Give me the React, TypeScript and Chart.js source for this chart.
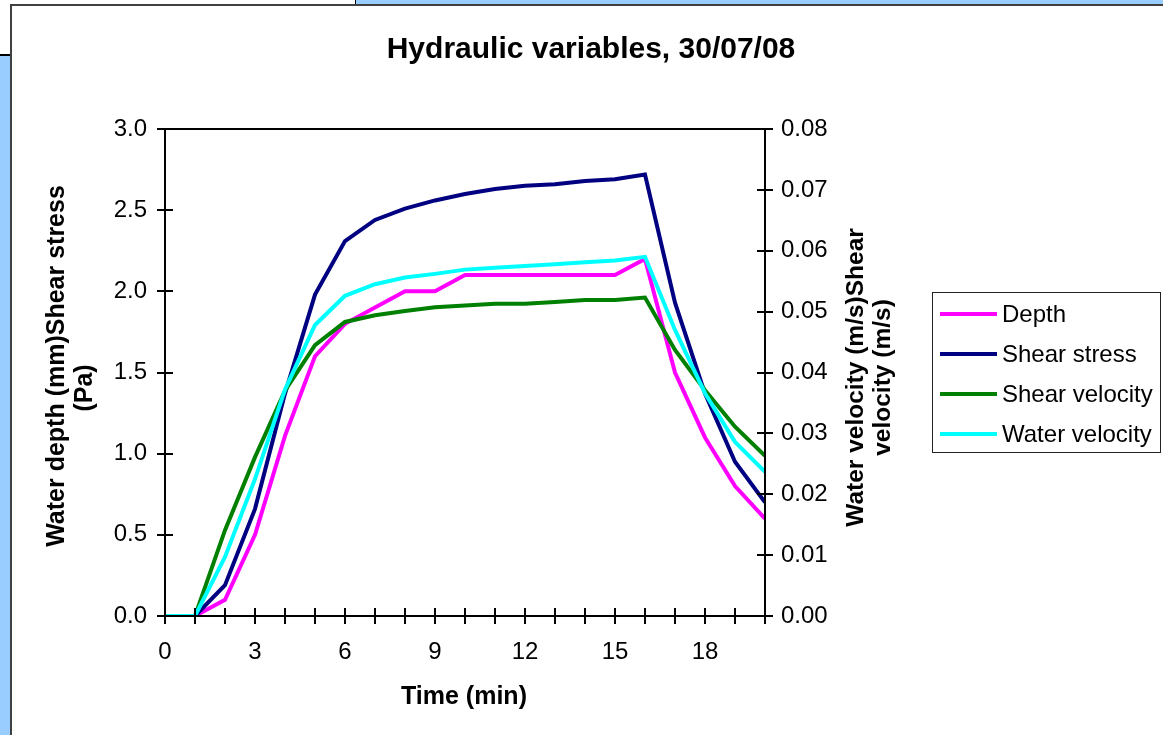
import { useEffect, useRef } from 'react';
import { Chart, registerables } from 'chart.js';

Chart.register(...registerables);

const times = [0, 1, 2, 3, 4, 5, 6, 7, 8, 9, 10, 11, 12, 13, 14, 15, 16, 17, 18, 19, 20];
const depth = [0, 0, 0.1, 0.5, 1.11, 1.6, 1.8, 1.9, 2.0, 2.0, 2.1, 2.1, 2.1, 2.1, 2.1, 2.1, 2.2, 1.5, 1.1, 0.8, 0.6];
const shearStress = [0, 0, 0.19, 0.66, 1.37, 1.98, 2.31, 2.44, 2.51, 2.56, 2.6, 2.63, 2.65, 2.66, 2.68, 2.69, 2.72, 1.93, 1.37, 0.95, 0.7];
const shearVelocity = [0, 0, 0.0141, 0.0261, 0.037, 0.0445, 0.0483, 0.0494, 0.0501, 0.0507, 0.051, 0.0513, 0.0513, 0.0516, 0.0519, 0.0519, 0.0523, 0.0437, 0.0371, 0.0311, 0.0263];
const waterVelocity = [0, 0, 0.0097, 0.0225, 0.0372, 0.0478, 0.0526, 0.0545, 0.0556, 0.0562, 0.0569, 0.0572, 0.0575, 0.0578, 0.0581, 0.0584, 0.059, 0.047, 0.0366, 0.0286, 0.0237];

const seriesLabels = ['Depth', 'Shear stress', 'Shear velocity', 'Water velocity'];
const seriesColors = ['#FF00FF', '#000080', '#008000', '#00FFFF'];
const chartTitle = 'Hydraulic variables, 30/07/08';
const xTitle = 'Time (min)';
const leftTitle = ['Water depth (mm)Shear stress', '(Pa)'];
const rightTitle = ['Water velocity (m/s)Shear', 'velocity (m/s)'];

const FONT = '"Liberation Sans", Arial, sans-serif';

const decorPlugin = {
  id: 'decor',
  afterDraw(chart: any) {
    const { ctx, chartArea: a, scales } = chart;
    ctx.save();
    ctx.strokeStyle = '#000';
    ctx.lineWidth = 2;
    ctx.strokeRect(a.left, a.top, a.right - a.left, a.bottom - a.top);
    ctx.beginPath();
    for (let v = 0; v <= 20; v++) {
      const x = Math.round(scales.x.getPixelForValue(v));
      ctx.moveTo(x, a.bottom - 8);
      ctx.lineTo(x, a.bottom + 8);
    }
    for (let i = 0; i <= 6; i++) {
      const y = Math.round(scales.y.getPixelForValue(i * 0.5));
      ctx.moveTo(a.left - 8, y);
      ctx.lineTo(a.left + 8, y);
    }
    for (let i = 0; i <= 8; i++) {
      const y = Math.round(scales.y1.getPixelForValue(i * 0.01));
      ctx.moveTo(a.right - 8, y);
      ctx.lineTo(a.right + 8, y);
    }
    ctx.stroke();

    ctx.fillStyle = '#000';
    // chart title
    ctx.font = `bold 30px ${FONT}`;
    ctx.textAlign = 'center';
    ctx.textBaseline = 'alphabetic';
    ctx.fillText(chartTitle, 591, 58);
    // x title
    ctx.font = `bold 25px ${FONT}`;
    ctx.fillText(xTitle, (a.left + a.right) / 2 - 1, 704);
    // left title
    const leftCenters = [366, 388];
    leftTitle.forEach((t, i) => {
      ctx.save();
      ctx.translate(64 + i * 28, leftCenters[i]);
      ctx.rotate(-Math.PI / 2);
      ctx.fillText(t, 0, 0);
      ctx.restore();
    });
    ctx.font = `bold 24.5px ${FONT}`;
    const cy = (a.top + a.bottom) / 2;
    rightTitle.forEach((t, i) => {
      ctx.save();
      ctx.translate(863 + i * 27, cy + 5);
      ctx.rotate(-Math.PI / 2);
      ctx.fillText(t, 0, 0);
      ctx.restore();
    });

    // legend
    ctx.lineWidth = 1;
    ctx.strokeStyle = '#222';
    ctx.strokeRect(932.5, 292.5, 228, 160);
    ctx.font = `24px ${FONT}`;
    ctx.textAlign = 'left';
    ctx.textBaseline = 'middle';
    chart.data.datasets.forEach((ds: any, i: number) => {
      const y = 314 + i * 40;
      ctx.strokeStyle = ds.borderColor;
      ctx.lineWidth = 4;
      ctx.beginPath();
      ctx.moveTo(940, y);
      ctx.lineTo(997, y);
      ctx.stroke();
      ctx.fillStyle = '#000';
      ctx.fillText(ds.label, 1002, y + 1);
    });
    ctx.restore();
  },
};

export default function App() {
  const ref = useRef<HTMLCanvasElement | null>(null);
  useEffect(() => {
    if (!ref.current) return;
    const seriesData = [depth, shearStress, shearVelocity, waterVelocity];
    const axes = ['y', 'y', 'y1', 'y1'];
    const orders = [4, 3, 2, 1];
    const tickFont = { family: FONT, size: 24 };
    const chart = new Chart(ref.current, {
      type: 'line',
      data: {
        datasets: seriesData.map((arr, i) => ({
          label: seriesLabels[i],
          data: arr.map((v, j) => ({ x: times[j], y: v })),
          borderColor: seriesColors[i],
          backgroundColor: seriesColors[i],
          borderWidth: 4,
          pointRadius: 0,
          tension: 0,
          fill: false,
          yAxisID: axes[i],
          order: orders[i],
        })),
      },
      options: {
        responsive: false,
        animation: false,
        layout: { padding: { top: 129, left: 0, right: 298, bottom: 0 } },
        plugins: {
          legend: { display: false },
          title: { display: false },
          tooltip: { enabled: false },
        },
        scales: {
          x: {
            type: 'linear',
            min: 0,
            max: 20,
            grid: { display: false, drawTicks: false },
            border: { display: false },
            ticks: {
              stepSize: 1,
              autoSkip: false,
              maxRotation: 0,
              padding: 22,
              color: '#000',
              font: tickFont,
              callback: (v: any) => (Number(v) % 3 === 0 ? String(v) : ''),
            },
            afterFit: (s: any) => {
              s.height = 119;
            },
          },
          y: {
            type: 'linear',
            position: 'left',
            min: 0,
            max: 3,
            grid: { display: false, drawTicks: false },
            border: { display: false },
            ticks: {
              stepSize: 0.5,
              padding: 18,
              color: '#000',
              font: tickFont,
              callback: (v: any) => Number(v).toFixed(1),
            },
            afterFit: (s: any) => {
              s.width = 165;
            },
          },
          y1: {
            type: 'linear',
            position: 'right',
            min: 0,
            max: 0.08,
            grid: { display: false, drawTicks: false },
            border: { display: false },
            ticks: {
              stepSize: 0.01,
              padding: 16,
              color: '#000',
              font: tickFont,
              callback: (v: any) => Number(v).toFixed(2),
            },
            afterFit: (s: any) => {
              s.width = 100;
            },
          },
        },
      },
      plugins: [decorPlugin],
    } as any);
    return () => chart.destroy();
  }, []);

  return (
    <div style={{ position: 'fixed', left: 0, top: 0, width: 1163, height: 735, background: '#fff', overflow: 'hidden' }}>
      <div style={{ position: 'absolute', left: 355, top: 0, width: 808, height: 5, background: '#99CCFF', borderLeft: '1px solid #000', boxSizing: 'border-box' }} />
      <div style={{ position: 'absolute', left: 0, top: 54, width: 11, height: 681, background: '#99CCFF', borderTop: '2px solid #000', boxSizing: 'border-box' }} />
      <div style={{ position: 'absolute', left: 10, top: 4, width: 1200, height: 800, background: '#fff', border: '2px solid #404040', boxSizing: 'border-box' }} />
      <canvas ref={ref} width={1163} height={735} style={{ position: 'absolute', left: 0, top: 0, width: 1163, height: 735 }} />
    </div>
  );
}
